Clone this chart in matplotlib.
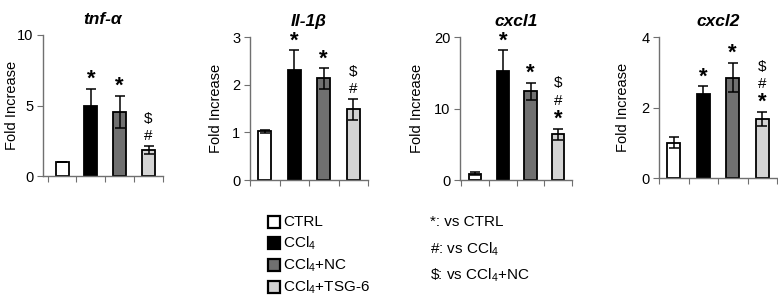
import numpy as np
import matplotlib.pyplot as plt
from matplotlib.patches import Rectangle

plt.rcParams['font.family'] = ['Liberation Sans', 'DejaVu Sans']
plt.rcParams['mathtext.fontset'] = 'custom'
plt.rcParams['mathtext.rm'] = 'Liberation Sans'
plt.rcParams['mathtext.it'] = 'Liberation Sans:italic'
plt.rcParams['mathtext.bf'] = 'Liberation Sans:bold'

groups = ['CTRL', 'CCl$_4$', 'CCl$_4$+NC', 'CCl$_4$+TSG-6']
colors = ['white', 'black', '#707070', '#d4d4d4']

titles = ['tnf-α', 'Il-1β', 'cxcl1', 'cxcl2']
means = [
    [1.0, 5.0, 4.55, 1.85],
    [1.02, 2.3, 2.13, 1.48],
    [0.9, 15.2, 12.4, 6.4],
    [1.0, 2.38, 2.85, 1.68],
]
errs = [
    [0.0, 1.2, 1.15, 0.3],
    [0.03, 0.42, 0.22, 0.22],
    [0.2, 3.0, 1.2, 0.8],
    [0.15, 0.22, 0.42, 0.2],
]
ymax = [10, 3, 20, 4]
yticks = [[0, 5, 10], [0, 1, 2, 3], [0, 10, 20], [0, 2, 4]]
# significance marks per bar, bottom to top
marks = [
    [[], ['*'], ['*'], ['#', '$']],
    [[], ['*'], ['*'], ['#', '$']],
    [[], ['*'], ['*'], ['*', '#', '$']],
    [[], ['*'], ['*'], ['*', '#', '$']],
]

W, H = 778, 298
fig = plt.figure(figsize=(W / 100, H / 100), dpi=100)

# axes boxes in pixels: left, right, top(ymax), bottom(0)
boxes = [(43, 163, 35, 176), (250, 368, 37, 180), (460, 572, 37, 180), (659, 777, 37, 178)]
xleft = [-0.66, -0.5, -0.55, -0.5]
label_x = [19, 223, 424, 630]  # right edge of rotated y label

x = np.arange(4)
for i in range(4):
    l, r, t, b = boxes[i]
    ax = fig.add_axes([l / W, 1 - b / H, (r - l) / W, (b - t) / H])
    ax.bar(x, means[i], width=0.45, color=colors, edgecolor='black', linewidth=1.3, zorder=2)
    ax.errorbar(x, means[i], yerr=errs[i], fmt='none', ecolor='black', elinewidth=1.1,
                capsize=3.5, capthick=1.1, zorder=3)
    ax.set_ylim(0, ymax[i])
    ax.set_xlim(xleft[i], 3.5)
    ax.set_yticks(yticks[i])
    ax.set_xticks(np.arange(-0.5, 3.6, 1.0))
    ax.set_xticklabels([])
    for s in ['top', 'right']:
        ax.spines[s].set_visible(False)
    for s in ['left', 'bottom']:
        ax.spines[s].set_color('#707070')
        ax.spines[s].set_linewidth(1.0)
    ax.tick_params(axis='both', direction='out', color='#707070', length=4, labelsize=10.5, pad=3)
    ax.set_ylabel('Fold Increase', fontsize=10.5)
    ax.yaxis.set_label_coords((label_x[i] - l) / (r - l), 0.5)
    ax.set_title(titles[i], fontsize=12.5, fontweight='bold', fontstyle='italic', pad=8)
    for j in range(4):
        top = means[i][j] + errs[i][j]
        off = 2
        for m in marks[i][j]:
            if m == '*':
                ax.annotate('*', (x[j], top), xytext=(0, off - 3), textcoords='offset points',
                            ha='center', va='bottom', fontsize=16, fontweight='bold')
                off += 13
            else:
                txt = '\\$' if m == '$' else m
                ax.annotate(txt, (x[j], top), xytext=(0, off), textcoords='offset points',
                            ha='center', va='bottom', fontsize=11)
                off += 12.5

# legend drawn in pixel space
lax = fig.add_axes([0, 0, 1, 1])
lax.set_xlim(0, W)
lax.set_ylim(H, 0)
lax.axis('off')
rows = [222, 243, 265, 287]
for k in range(4):
    lax.add_patch(Rectangle((268, rows[k] - 6), 12, 12, facecolor=colors[k],
                            edgecolor='black', linewidth=1.6))
    lax.text(283, rows[k], groups[k], fontsize=11, va='center', ha='left')

notes = ['*: vs CTRL', '#: vs CCl$_4$', '\\$: vs CCl$_4$+NC']
note_y = [222, 249, 275]
for k in range(3):
    lax.text(430, note_y[k], notes[k], fontsize=11, va='center', ha='left')

fig.savefig('out.png', dpi=100)
